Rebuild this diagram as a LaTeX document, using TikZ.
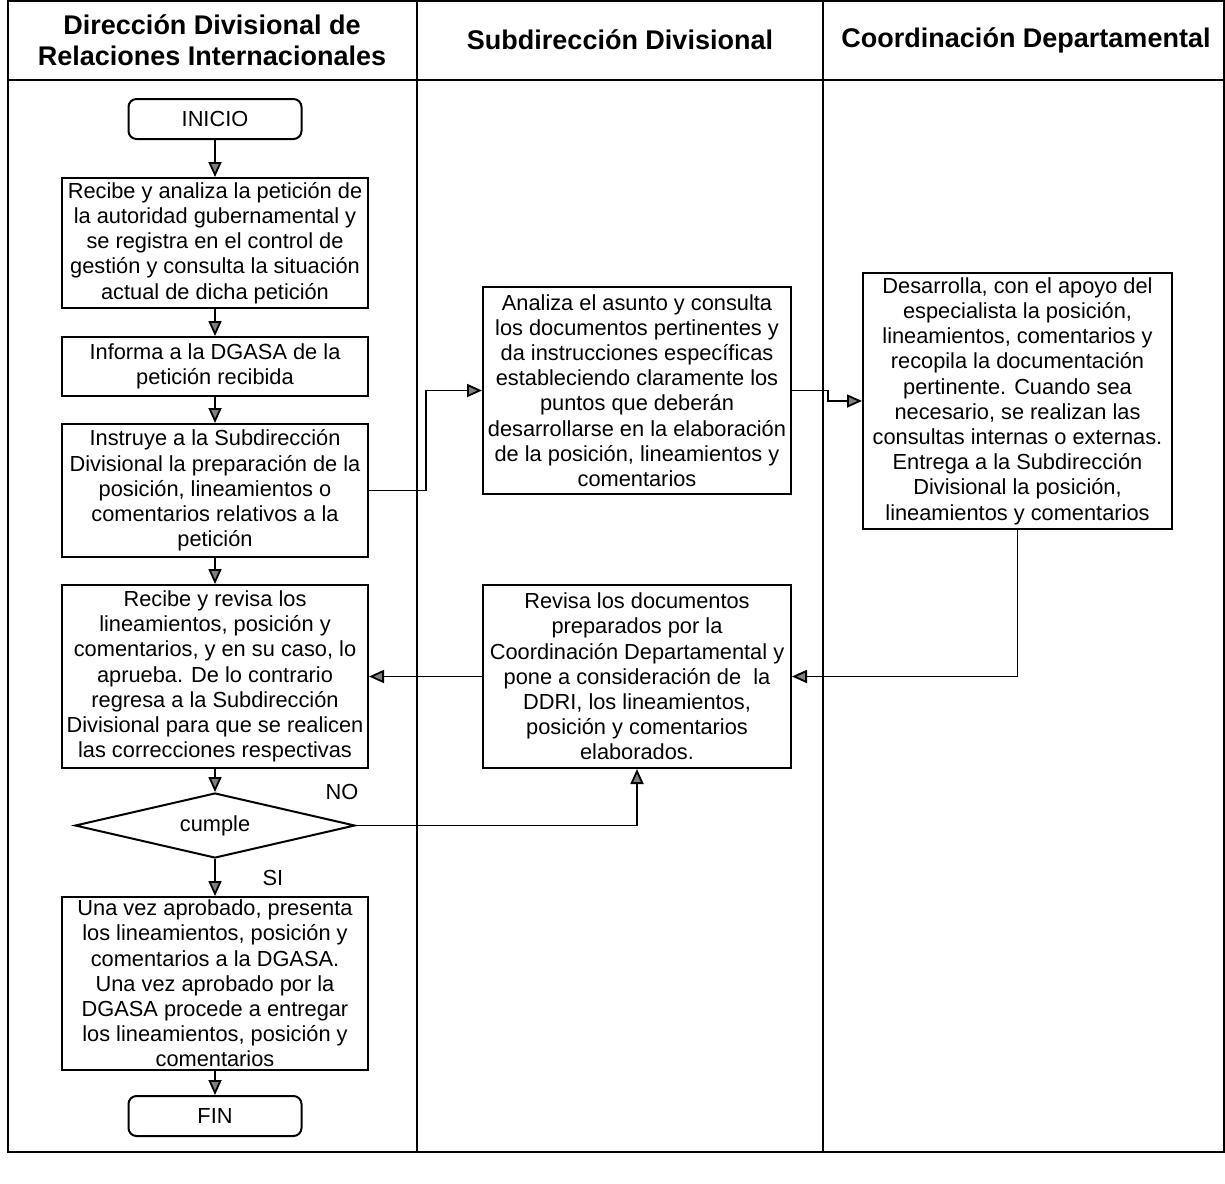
\documentclass[tikz,border=0pt]{standalone}
\usepackage{fontspec}
\setmainfont{Liberation Sans}
\usetikzlibrary{positioning,arrows.meta,shapes.geometric}

\begin{document}
\begin{tikzpicture}[x=0.5pt,y=-0.5pt,on grid,node distance=62pt,
                font=\fontsize{10.9}{12.6}\selectfont,
                paso/.style={draw,line width=1pt,align=center,minimum width=153pt,inner sep=1pt},
                extremo/.style={draw,line width=1pt,rounded corners=4pt,minimum width=86.5pt,minimum height=20pt},
                decision/.style={draw,line width=1pt,diamond,aspect=4.3,minimum width=140pt,minimum height=32.5pt,inner sep=0pt},
                carril/.style={font=\fontsize{13.5}{15.5}\selectfont\bfseries,align=center},
                flecha/.style={line width=0.9pt,-{Triangle[length=7.5pt,width=6.5pt,fill=gray]}}]
                \useasboundingbox (0,0) rectangle (1225,1183);
                \draw[line width=0.7pt] (8,1) rectangle (1224,1152);
                \draw[line width=0.7pt] (8,80) -- (1224,80) (417,1) -- (417,1152) (823,1) -- (823,1152);
                \node[carril] (ddri) at (212,40) {Dirección Divisional de\\Relaciones Internacionales};
                \node[carril] (sd) at (620,40) {Subdirección Divisional};
                \node[carril] (cd) at (1026,40) {Coordinación Departamental};
                \node[extremo] (inicio) at (215,119) {INICIO};
                \node[paso,minimum height=65pt,below=of inicio] (recibe) {Recibe y analiza la petición de\\la autoridad gubernamental y\\se registra en el control de\\gestión y consulta la situación\\actual de dicha petición};
                \node[paso,minimum height=29.5pt,below=61.75pt of recibe] (informa) {Informa a la DGASA de la\\petición recibida};
                \node[paso,minimum height=66.5pt,below=of informa] (instruye) {Instruye a la Subdirección\\Divisional la preparación de la\\posición, lineamientos o\\comentarios relativos a la\\petición};
                \node[paso,minimum height=91.5pt,below=93pt of instruye] (aprueba) {Recibe y revisa los\\lineamientos, posición y\\comentarios, y en su caso, lo\\aprueba. De lo contrario\\regresa a la Subdirección\\Divisional para que se realicen\\las correcciones respectivas};
                \node[decision,below=74.5pt of aprueba] (cumple) {cumple};
                \node[paso,minimum height=86.5pt,below=79pt of cumple] (aprobado) {Una vez aprobado, presenta\\los lineamientos, posición y\\comentarios a la DGASA.\\Una vez aprobado por la\\DGASA procede a entregar\\los lineamientos, posición y\\comentarios};
                \node[extremo,below=66.25pt of aprobado] (fin) {FIN};
                \node[paso,minimum width=154pt,minimum height=103.5pt] (analiza) at (637,390.5) {Analiza el asunto y consulta\\los documentos pertinentes y\\da instrucciones específicas\\estableciendo claramente los\\puntos que deberán\\desarrollarse en la elaboración\\de la posición, lineamientos y\\comentarios};
                \node[paso,minimum width=154pt,minimum height=91.5pt,right=211pt of aprueba] (revision) {Revisa los documentos\\preparados por la\\Coordinación Departamental y\\pone a consideración de~ la\\DDRI, los lineamientos,\\posición y comentarios\\elaborados.};
                \node[paso,minimum width=154.5pt,minimum height=128pt] (desarrolla) at (1017.5,401) {Desarrolla, con el apoyo del\\especialista la posición,\\lineamientos, comentarios y\\recopila la documentación\\pertinente. Cuando sea\\necesario, se realizan las\\consultas internas o externas.\\Entrega a la Subdirección\\Divisional la posición,\\lineamientos y comentarios};
                \node (no) at ([xshift=-7pt,yshift=17pt]cumple.east) {NO};
                \path[flecha]
                    (inicio)
                        edge (recibe)
                    (recibe)
                        edge (informa)
                    (informa)
                        edge (instruye)
                    (instruye)
                        edge (aprueba)
                    (aprueba)
                        edge (cumple)
                    (cumple)
                        edge node[right=20pt] {SI} (aprobado)
                    (aprobado)
                        edge (fin)
                    (revision)
                        edge (aprueba);
                \draw[flecha] (instruye.east) -- ++(57,0) |- (analiza.west);
                \draw[flecha] (analiza.east) -- ++(36,0) |- (desarrolla.west);
                \draw[flecha] (desarrolla.south) |- (revision.east);
                \draw[flecha] (cumple.east) -| (revision.south);
            \end{tikzpicture}
\end{document}
